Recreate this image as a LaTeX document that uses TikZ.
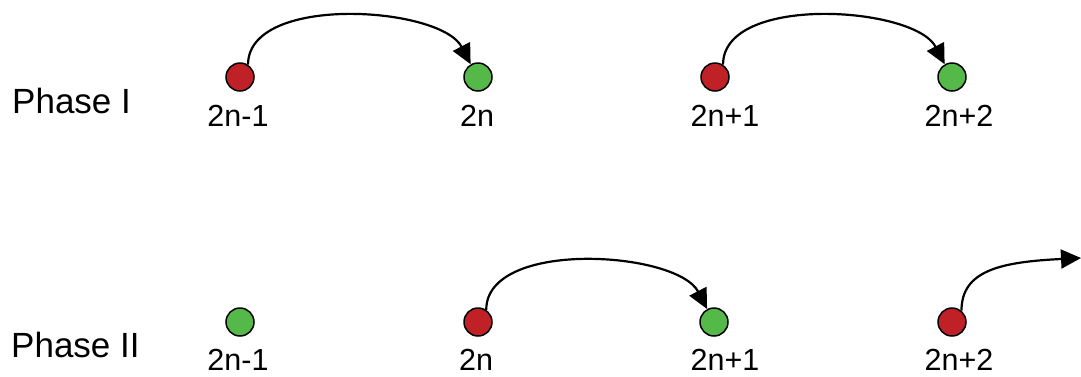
\documentclass[tikz,border=0pt]{standalone}
\usepackage{fontspec}
\setmainfont{Liberation Sans}
\usetikzlibrary{arrows.meta}
\definecolor{hopred}{RGB}{192,33,39}
\definecolor{hopgreen}{RGB}{84,185,72}
\tikzset{
  site/.style={circle, draw=black, line width=1.5pt, minimum size=28pt, inner sep=0pt},
  sender/.style={site, fill=hopred},
  receiver/.style={site, fill=hopgreen},
  idx/.style={anchor=base, inner sep=0pt, font=\fontsize{30.5}{36}\selectfont},
  phase/.style={anchor=base west, inner sep=0pt, font=\fontsize{35}{42}\selectfont},
  hop/.style={line width=2.2pt, arrows={-Triangle[length=20pt, width=19pt]}}
}
\begin{document}
\begin{tikzpicture}[x=1pt, y=-1pt]
  \useasboundingbox (0,0) rectangle (1081,376);

  % phase titles
  \node[phase] (p1) at (12,113) {Phase I};
  \node[phase] (p2) at (11,357) {Phase II};

  % phase I sites
  \node[sender]   (a1) at (240,77) {};
  \node[receiver] (a2) at (478,77) {};
  \node[sender]   (a3) at (715,77) {};
  \node[receiver] (a4) at (952,77) {};
  \node[idx] (la1) at (238,126) {2n-1};
  \node[idx] (la2) at (477,126) {2n};
  \node[idx] (la3) at (725,126) {2n+1};
  \node[idx] (la4) at (959,126) {2n+2};

  % phase II sites
  \node[receiver] (b1) at (240,322) {};
  \node[sender]   (b2) at (478,322) {};
  \node[receiver] (b3) at (714,322) {};
  \node[sender]   (b4) at (952,322) {};
  \node[idx] (lb1) at (238,370) {2n-1};
  \node[idx] (lb2) at (476,370) {2n};
  \node[idx] (lb3) at (725,370) {2n+1};
  \node[idx] (lb4) at (959,370) {2n+2};

  \coordinate (out) at (1081,258);

  % hops
  \draw[hop] (a1.57) .. controls +(0,-71) and +(-30,-58) .. (a2.120);
  \draw[hop] (a3.57) .. controls +(0,-71) and +(-30,-58) .. (a4.120);
  \draw[hop] (b2.56) .. controls +(0,-71) and +(-30,-58) .. (b3.118);
  \draw[hop] (b4.50) .. controls +(0,-40) and +(-81,4) .. (out);
\end{tikzpicture}
\end{document}
